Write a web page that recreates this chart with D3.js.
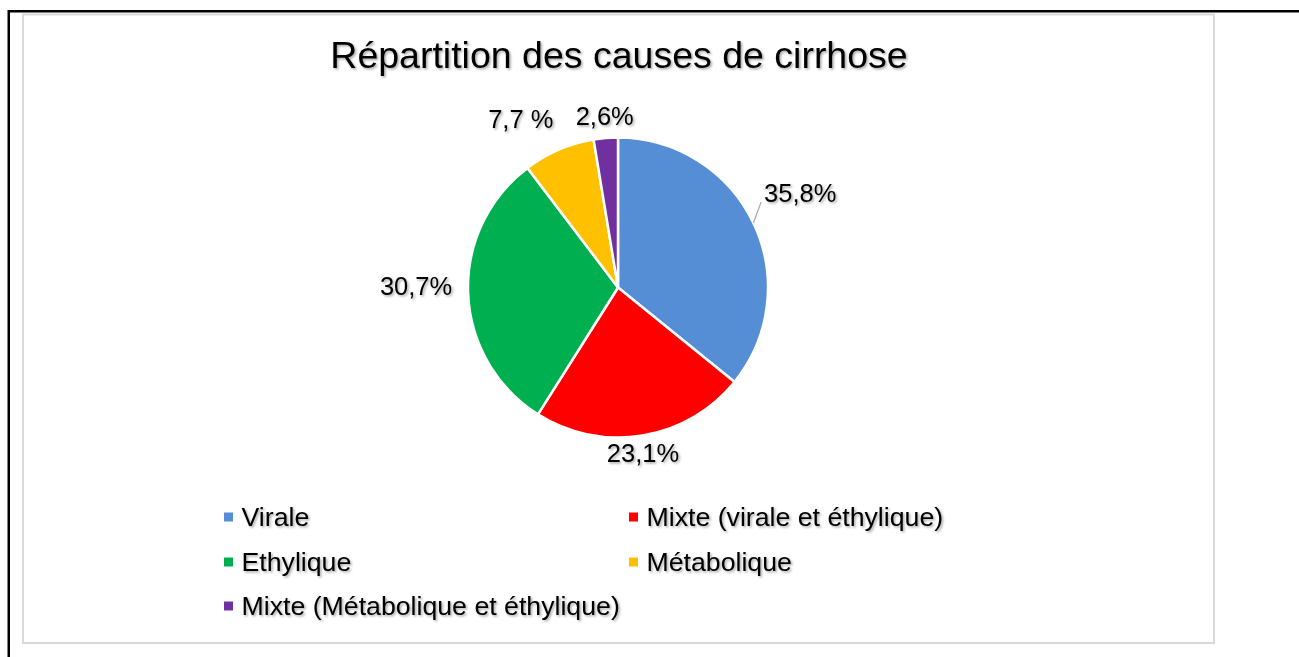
<!DOCTYPE html>
<html><head><meta charset="utf-8">
<script src="https://cdn.jsdelivr.net/npm/d3@7"></script>
<style>
html,body{margin:0;padding:0;background:#fff;}
svg{display:block;}
text{font-family:"Liberation Sans",Arial,sans-serif;fill:#000;}
</style></head>
<body>
<svg id="chart" width="1299" height="657"></svg>
<script>
// ---- data ----
const categories = ["Virale", "Mixte (virale et éthylique)", "Ethylique", "Métabolique", "Mixte (Métabolique et éthylique)"];
const values = [35.8, 23.1, 30.7, 7.7, 2.6];
const valueLabels = ["35,8%", "23,1%", "30,7%", "7,7 %", "2,6%"];
const colors = ["#558ED5", "#FF0000", "#00B050", "#FFC000", "#7030A0"];
const title = "Répartition des causes de cirrhose";

// ---- layout ----
const W = 1299, H = 657;
const cx = 618, cy = 287.5, R = 150;
const labelFont = 25.5, legendFont = 26.7, titleFont = 37.5;
const labelNudge = [[7, -22.6], [-6.7, 0], [-8, -9], [-22, -15.5], [2, -5]];
const leaderFor = [true, false, false, false, false];

const svg = d3.select("#chart");
const defs = svg.append("defs");
const f = defs.append("filter").attr("id", "sh").attr("x", "-10%").attr("y", "-20%").attr("width", "130%").attr("height", "150%");
f.append("feDropShadow").attr("dx", 1.5).attr("dy", 1.5).attr("stdDeviation", 1)
  .attr("flood-color", "#000").attr("flood-opacity", 0.35);

// frames
svg.append("rect").attr("x", 8.75).attr("y", 11.25).attr("width", W + 20).attr("height", H + 20)
  .attr("fill", "none").attr("stroke", "#000").attr("stroke-width", 2.5);
svg.append("rect").attr("x", 23).attr("y", 14.5).attr("width", 1191).attr("height", 628.5)
  .attr("fill", "#fff").attr("stroke", "#D9D9D9").attr("stroke-width", 2);

// title
svg.append("text").attr("x", cx + 1).attr("y", 68).attr("text-anchor", "middle")
  .attr("font-size", titleFont).attr("filter", "url(#sh)").text(title);

// pie
const pie = d3.pie().sort(null).value(d => d);
const arcs = pie(values);
const arc = d3.arc().innerRadius(0).outerRadius(R);
const g = svg.append("g").attr("transform", `translate(${cx},${cy})`);
g.selectAll("path.slice").data(arcs).enter().append("path")
  .attr("class", "slice")
  .attr("d", arc)
  .attr("fill", (d, i) => colors[i])
  .attr("stroke", "#fff").attr("stroke-width", 2.5).attr("stroke-linejoin", "round");

// labels
const gap = 8;
arcs.forEach((a, i) => {
  const mid = (a.startAngle + a.endAngle) / 2;
  const ux = Math.sin(mid), uy = -Math.cos(mid);
  const t = g.append("text").attr("font-size", labelFont).attr("text-anchor", "middle")
    .attr("filter", "url(#sh)").text(valueLabels[i]);
  const w = t.node().getComputedTextLength();
  const hh = labelFont * 0.36;
  const lx = ux * (R + gap) + ux * w / 2 + labelNudge[i][0];
  const ly = uy * (R + gap) + uy * hh + labelNudge[i][1];
  t.attr("x", lx).attr("y", ly + hh);
  if (leaderFor[i]) {
    g.insert("line", "text")
      .attr("x1", ux * R).attr("y1", uy * R)
      .attr("x2", lx - w / 2 - 3).attr("y2", ly + hh)
      .attr("stroke", "#A6A6A6").attr("stroke-width", 1.2);
  }
});

// legend
const legCols = [224, 629];
const legRows = [526, 571, 615];
const sq = 9;
categories.forEach((c, i) => {
  const col = i % 2, row = Math.floor(i / 2);
  const x = legCols[col], y = legRows[row];
  svg.append("rect").attr("x", x).attr("y", y - 9 - sq / 2).attr("width", sq).attr("height", sq)
    .attr("fill", colors[i]);
  svg.append("text").attr("x", x + 17.5).attr("y", y).attr("font-size", legendFont)
    .attr("filter", "url(#sh)").text(c);
});
</script>
</body></html>
